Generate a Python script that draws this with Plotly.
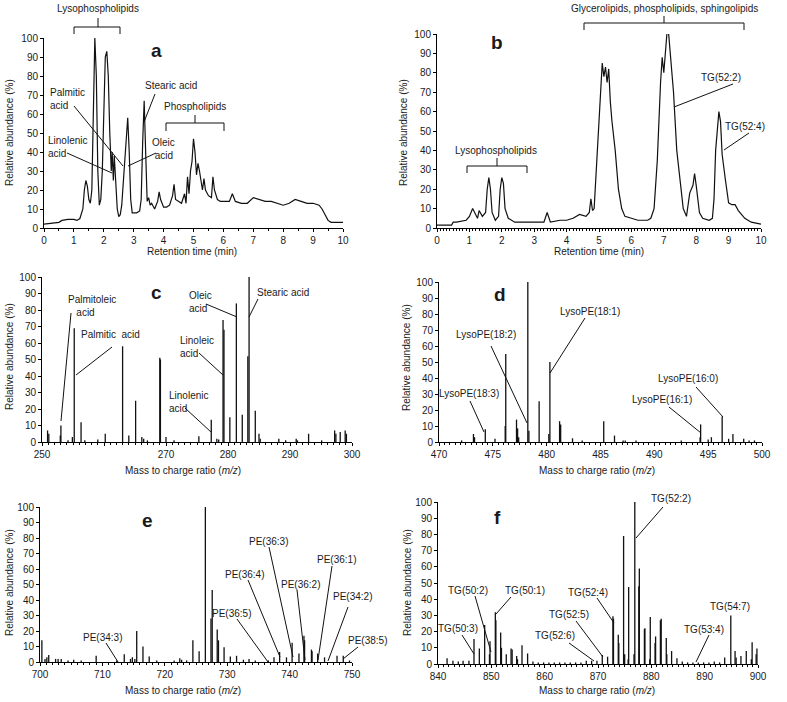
import plotly.graph_objects as go

# ---------------- data ----------------
# Panel a: total ion chromatogram (retention time, relative abundance)
a_time = [0, 0.5, 0.6, 0.8, 1.0, 1.1, 1.2, 1.3, 1.35, 1.4, 1.45, 1.5, 1.55, 1.6, 1.65, 1.7, 1.75, 1.8, 1.85,
          1.9, 1.95, 2.0, 2.05, 2.1, 2.15, 2.2, 2.25, 2.28, 2.32, 2.35, 2.4, 2.45, 2.5, 2.55, 2.6, 2.65, 2.7,
          2.75, 2.8, 2.85, 2.9, 2.95, 3.0, 3.1, 3.2, 3.25, 3.3, 3.35, 3.4, 3.45, 3.5, 3.55, 3.6, 3.7, 3.8,
          3.85, 3.9, 4.0, 4.1, 4.2, 4.3, 4.35, 4.4, 4.5, 4.6, 4.7, 4.75, 4.8, 4.85, 4.9, 4.95, 5.0, 5.05,
          5.1, 5.15, 5.2, 5.3, 5.35, 5.4, 5.5, 5.6, 5.65, 5.7, 5.8, 5.9, 6.0, 6.2, 6.3, 6.4, 6.6, 6.8, 7.0,
          7.2, 7.4, 7.6, 7.8, 8.0, 8.2, 8.4, 8.6, 8.8, 9.0, 9.2, 9.3, 9.4, 9.5, 9.6, 10.0]
a_abund = [2, 3, 4, 4.5, 4.5, 4, 5, 10, 20, 25, 22, 15, 13, 20, 60, 100, 80, 30, 12,
           15, 30, 70, 90, 93, 80, 50, 30, 40, 25, 38, 20, 10, 6, 7, 12, 25, 38,
           45, 58, 40, 15, 8, 8, 8, 9, 15, 45, 67, 40, 14, 16, 12, 13, 10, 14,
           19, 15, 11, 11, 12, 17, 23, 15, 14, 13, 18, 13, 27, 18, 30, 35, 47, 40,
           28, 34, 30, 20, 26, 20, 17, 16, 27, 20, 15, 14, 14, 14, 18, 14, 13, 13, 16,
           15, 14, 14, 13, 12, 13, 15, 14, 13, 13, 12, 10, 7, 4, 3, 3]

# Panel b: total ion chromatogram
b_time = [0, 0.45, 0.5, 0.6, 0.9, 1.0, 1.1, 1.2, 1.25, 1.3, 1.4, 1.5, 1.55, 1.6, 1.65, 1.7, 1.8, 1.9,
          1.95, 2.0, 2.05, 2.1, 2.2, 2.4, 2.8, 3.0, 3.3, 3.4, 3.45, 3.5, 3.8, 4.0, 4.2, 4.4, 4.6, 4.7,
          4.75, 4.8, 4.85, 4.9, 5.0, 5.05, 5.1, 5.15, 5.2, 5.25, 5.3, 5.35, 5.4, 5.5, 5.6, 5.7, 5.8,
          6.0, 6.2, 6.5, 6.6, 6.7, 6.8, 6.9, 6.95, 7.0, 7.05, 7.1, 7.15, 7.2, 7.3, 7.4, 7.5, 7.6, 7.7,
          7.75, 7.8, 7.9, 7.95, 8.0, 8.1, 8.2, 8.4, 8.5, 8.55, 8.6, 8.7, 8.75, 8.8, 8.9, 9.0, 9.1, 9.2,
          9.3, 9.5, 9.7, 10.0]
b_abund = [1.5, 1.5, 3, 3, 4, 6, 10, 7, 5, 9, 6, 8, 20, 26, 20, 8, 4, 6,
           20, 26, 23, 10, 5, 3, 3, 3, 3, 8, 5, 3, 4, 4, 5, 7, 6, 8,
           15, 9, 10, 25, 60, 70, 85, 78, 83, 75, 82, 65, 55, 40, 20, 10, 6,
           5, 4, 4, 5, 10, 35, 75, 88, 80, 90, 101, 100, 90, 70, 40, 25, 10, 6,
           12, 18, 22, 28, 22, 8, 5, 4, 5, 15, 40, 60, 55, 38, 25, 13, 12, 12,
           9, 5, 3, 2]

# Panel c: mass spectrum (m/z 250-300)
c_mz = [250.9, 251.1, 252.95, 253.05, 254.2, 254.9, 255.2, 256.3, 256.9, 259.0, 260.2, 263.0, 264.0,
        265.1, 266.1, 266.4, 267.0, 269.0, 269.1, 270.0, 271.3, 275.3, 277.3, 278.2, 278.5, 279.2,
        279.35, 280.3, 281.35, 282.3, 283.2, 283.4, 284.4, 285.0, 285.2, 288.2, 289.3, 291.0, 291.2,
        293.0, 295.1, 297.2, 297.4, 298.1, 298.9, 299.1]
c_int = [7, 5, 4, 10, 1, 3, 69, 12, 1, 1.5, 5, 58, 4,
         25, 3, 2, 1, 51, 50, 3, 1, 3.5, 13.5, 2, 1.5, 74,
         68, 15, 84, 16.5, 52, 100, 19, 5, 2, 2, 1, 2, 1,
         5, 1, 7, 5, 6, 7, 5]

# Panel d: mass spectrum (m/z 470-500)
d_mz = [472.1, 473.2, 473.3, 474.3, 475.2, 476.15, 476.2, 477.2, 477.3, 477.4, 478.25, 478.35, 479.3,
        480.2, 480.3, 481.2, 481.3, 482.4, 483.3, 485.3, 486.3, 487.1, 487.3, 488.3, 492.5, 494.25,
        494.3, 495.0, 495.3, 496.3, 496.9, 497.3, 498.3, 498.8, 499.3]
d_int = [1, 5, 3, 8, 2, 10, 55, 14, 8.5, 3, 100, 7, 25.5,
         5, 50, 13, 11, 2.3, 1, 13, 4, 1, 1, 1, 1, 3,
         11, 1.5, 3, 16, 2, 5, 2, 1, 1]

# Panel e: mass spectrum (m/z 700-750)
e_mz = [700.3, 700.8, 701.1, 701.4, 702.5, 702.9, 703.4, 704.5, 705.4, 706.6, 709.0, 712.3, 713.5,
        714.5, 714.8, 715.2, 715.5, 716.5, 717.5, 718.7, 721.5, 722.4, 722.7, 723.5, 724.5, 725.5,
        726.5, 727.4, 727.6, 728.4, 728.6, 729.5, 730.5, 731.5, 732.6, 733.5, 734.5, 736.6, 737.5,
        738.4, 739.5, 740.4, 741.5, 742.3, 742.4, 743.5, 743.6, 744.5, 745.6, 747.6, 748.6, 749.6]
e_int = [14, 2, 3, 4.5, 2, 2, 2, 1, 1.5, 1, 4, 1, 5,
         2, 3, 2, 20, 10, 3.5, 1, 1, 2.5, 1.5, 1, 14, 7,
         100, 28, 46.5, 21, 14, 9.5, 3.5, 4, 1.5, 2, 1, 1, 3,
         6.5, 3, 12.4, 5.5, 17, 14, 8, 7, 5.5, 3, 4, 4, 1]

# Panel f: mass spectrum (m/z 840-900)
f_mz = [841.7, 842.8, 843.8, 844.7, 845.8, 846.75, 847.75, 848.75, 849.65, 849.75, 850.75, 850.85,
        851.75, 851.9, 852.8, 853.7, 853.9, 854.75, 854.9, 855.75, 856.8, 857.8, 858.8, 859.8, 860.8,
        861.8, 862.8, 863.8, 864.8, 865.8, 866.8, 867.8, 868.8, 869.8, 870.8, 871.8, 872.8, 872.9,
        873.8, 873.9, 874.8, 875.0, 875.65, 875.75, 876.75, 876.9, 877.65, 877.75, 878.7, 878.8,
        879.7, 879.8, 880.7, 880.8, 881.7, 881.85, 882.8, 882.9, 883.8, 884.8, 885.8, 886.8, 887.8,
        888.8, 889.8, 890.8, 891.8, 892.8, 893.75, 894.9, 895.7, 895.9, 896.8, 897.8, 898.75, 898.9,
        899.65, 899.8]
f_int = [3.5, 2, 1.5, 2, 2, 15.5, 9.5, 24, 6, 14, 32, 27,
         19.5, 10, 6, 9.5, 9, 5, 3, 11.5, 6.5, 1.5, 1, 1, 1,
         1, 1, 1, 1, 1, 1, 2, 2, 2, 5.5, 4.5, 29.5, 28,
         18, 13, 79, 6, 3, 47.5, 6, 100, 48, 59, 21.5, 22,
         3, 29, 13, 17, 27, 28, 16, 6, 8, 3.5, 1.5, 1, 1,
         1, 1, 1, 1.5, 1, 4, 30, 8, 4, 5, 8, 3, 13.5,
         6, 9.5]

# tick labels
y_ticks = [0, 10, 20, 30, 40, 50, 60, 70, 80, 90, 100]
time_ticks = [0, 1, 2, 3, 4, 5, 6, 7, 8, 9, 10]
c_ticks = [250, 260, 270, 280, 290, 300]
c_ticktext = ["250", "", "270", "280", "290", "300"]
d_ticks = [470, 475, 480, 485, 490, 495, 500]
e_ticks = [700, 710, 720, 730, 740, 750]
f_ticks = [840, 850, 860, 870, 880, 890, 900]

# ---------------- layout helpers ----------------
W, H = 787, 702
FONT = "Liberation Sans, Arial, sans-serif"
TXT = "#1a1a1a"


def px(x):
    return x / W


def py(y):
    return 1 - y / H


def stems(mz, inten):
    xs, ys = [], []
    for m, v in zip(mz, inten):
        xs += [m, m, None]
        ys += [0, v, None]
    return xs, ys


fig = go.Figure()

# pixel boxes (left, right, top(=100), bottom(=0))
boxes = {
    "a": (44, 343, 38, 228),
    "b": (437, 761, 34, 228),
    "c": (42, 352, 277, 442),
    "d": (439, 762, 282, 442),
    "e": (40, 352, 507, 662),
    "f": (438, 758, 502, 664),
}
xranges = {"a": [0, 10], "b": [0, 10], "c": [250, 300], "d": [470, 500], "e": [700, 750], "f": [840, 900]}
xticks = {"a": (time_ticks, [str(t) for t in time_ticks]), "b": (time_ticks, [str(t) for t in time_ticks]),
          "c": (c_ticks, c_ticktext), "d": (d_ticks, [str(t) for t in d_ticks]),
          "e": (e_ticks, [str(t) for t in e_ticks]), "f": (f_ticks, [str(t) for t in f_ticks])}
minor_dt = {"a": 0.5, "b": 0.1, "c": 1, "d": 0.5, "e": 1, "f": 1}

layout = dict(width=W, height=H, margin=dict(l=0, r=0, t=0, b=0, autoexpand=False), paper_bgcolor="white",
              plot_bgcolor="white", showlegend=False, font=dict(family=FONT, size=10, color=TXT))

for i, k in enumerate(["a", "b", "c", "d", "e", "f"]):
    n = "" if i == 0 else str(i + 1)
    l, r, t, b = boxes[k]
    tv, tt = xticks[k]
    layout["xaxis" + n] = dict(domain=[px(l), px(r)], range=xranges[k], anchor="y" + n,
                               showgrid=False, zeroline=False, showline=True, linecolor="black",
                               linewidth=1, ticks="outside", ticklen=3, tickcolor="black",
                               tickvals=tv, ticktext=tt, tickfont=dict(size=10, color=TXT),
                               automargin=False,
                               minor=dict(ticks="outside", ticklen=2, dtick=minor_dt[k],
                                          tickcolor="black", showgrid=False))
    layout["yaxis" + n] = dict(domain=[py(b), py(t)], range=[0, 100], anchor="x" + n,
                               showgrid=False, zeroline=False, showline=True, linecolor="black",
                               linewidth=1, ticks="outside", ticklen=3, tickcolor="black",
                               automargin=False,
                               tickvals=y_ticks, tickfont=dict(size=10, color=TXT))

fig.add_trace(go.Scatter(x=a_time, y=a_abund, mode="lines", line=dict(color="#111", width=1.2),
                         xaxis="x", yaxis="y", cliponaxis=False))
fig.add_trace(go.Scatter(x=b_time, y=b_abund, mode="lines", line=dict(color="#111", width=1.2),
                         xaxis="x2", yaxis="y2", cliponaxis=False))
for n, (mz, it) in zip(["3", "4", "5", "6"], [(c_mz, c_int), (d_mz, d_int), (e_mz, e_int), (f_mz, f_int)]):
    xs, ys = stems(mz, it)
    fig.add_trace(go.Scatter(x=xs, y=ys, mode="lines", line=dict(color="#111", width=1.3),
                             xaxis="x" + n, yaxis="y" + n, cliponaxis=False, connectgaps=False))

annotations = []
shapes = []


def label(x, y, text, size=10, bold=False, xanchor="center", align="center", angle=0):
    if bold:
        text = "<b>" + text + "</b>"
    annotations.append(dict(x=px(x), y=py(y), xref="paper", yref="paper", text=text, showarrow=False,
                            font=dict(family=FONT, size=size, color=TXT), xanchor=xanchor,
                            yanchor="middle", align=align, textangle=angle, borderpad=0))


def seg(x0, y0, x1, y1):
    shapes.append(dict(type="line", xref="paper", yref="paper", x0=px(x0), y0=py(y0), x1=px(x1),
                       y1=py(y1), line=dict(color="#111", width=1)))


def bracket(xl, xr, yh, ye, xm, ymt):
    seg(xl, ye, xl, yh)
    seg(xl, yh, xr, yh)
    seg(xr, yh, xr, ye)
    seg(xm, yh, xm, ymt)


# axis titles
YT = "Relative abundance (%)"
MZ = "Mass to charge ratio (<i>m/z</i>)"
label(9, 133, YT, angle=-90)
label(403, 133, YT, angle=-90)
label(9, 357, YT, angle=-90)
label(406, 358, YT, angle=-90)
label(9, 583, YT, angle=-90)
label(407, 583, YT, angle=-90)
label(192, 251, "Retention time (min)")
label(599, 251, "Retention time (min)")
label(183, 470, MZ)
label(597, 470, MZ)
label(183, 690, MZ)
label(597, 690, MZ)

# panel letters
label(156, 50, "a", size=19, bold=True)
label(497, 42, "b", size=19, bold=True)
label(156, 293, "c", size=19, bold=True)
label(500, 294, "d", size=19, bold=True)
label(147, 520, "e", size=19, bold=True)
label(497, 517, "f", size=19, bold=True)

# panel a
label(98, 9, "Lysophospholipids")
bracket(74, 120, 27, 34, 98, 18)
label(49, 99, "Palmitic<br>acid", xanchor="left", align="left")
seg(74, 106, 123, 166)
label(47, 147, "Linolenic<br>acid", xanchor="left", align="left")
seg(67, 153, 112, 173)
label(171, 86, "Stearic acid")
seg(155, 94, 144, 122)
label(151, 149, "Oleic<br> acid", xanchor="left", align="left")
seg(156, 153, 128, 166)
label(195, 107, "Phospholipids")
bracket(166, 224, 123, 131, 195, 115)

# panel b
label(664, 9, "Glycerolipids, phospholipids, sphingolipids")
bracket(584, 744, 23, 30, 664, 16)
label(496, 150, "Lysophospholipids")
bracket(467, 527, 166, 173, 497, 158)
label(721, 77, "TG(52:2)")
seg(733, 84, 674, 107)
label(745, 127, "TG(52:4)")
seg(749, 133, 724, 150)

# panel c
label(67, 306, "Palmitoleic<br>   acid", xanchor="left", align="left")
seg(71, 313, 61, 421)
label(111, 334, "Palmitic  acid")
seg(112, 347, 76, 375)
label(188, 302, "Oleic<br>acid", xanchor="left", align="left")
seg(206, 304, 237, 317)
label(283, 292, "Stearic acid")
seg(258, 299, 249, 317)
label(179, 347, "Linoleic<br>acid", xanchor="left", align="left")
seg(199, 353, 223, 375)
label(168, 402, "Linolenic<br>acid", xanchor="left", align="left")
seg(185, 408, 211, 432)

# panel d
label(590, 311, "LysoPE(18:1)")
seg(585, 318, 550, 373)
label(486, 335, "LysoPE(18:2)")
seg(491, 346, 527, 423)
label(469, 393, "LysoPE(18:3)")
seg(470, 401, 484, 432)
label(688, 378, "LysoPE(16:0)")
seg(696, 387, 723, 417)
label(662, 399, "LysoPE(16:1)")
seg(669, 407, 701, 433)

# panel e
label(102, 637, "PE(34:3)")
seg(106, 643, 118, 662)
label(232, 613, "PE(36:5)")
seg(237, 619, 268, 662)
label(245, 574, "PE(36:4)")
seg(248, 580, 280, 657)
label(268, 541, "PE(36:3)")
seg(269, 547, 293, 657)
label(300, 584, "PE(36:2)")
seg(297, 590, 305, 660)
label(336, 559, "PE(36:1)")
seg(332, 566, 318, 660)
label(352, 596, "PE(34:2)")
seg(348, 607, 328, 661)
label(367, 640, "PE(38:5)")
seg(358, 647, 343, 659)

# panel f
label(671, 499, "TG(52:2)")
seg(663, 507, 636, 538)
label(468, 590, "TG(50:2)")
seg(475, 596, 491, 652)
label(525, 590, "TG(50:1)")
seg(511, 597, 496, 614)
label(588, 592, "TG(52:4)")
seg(597, 598, 614, 623)
label(569, 614, "TG(52:5)")
seg(576, 621, 603, 657)
label(555, 635, "TG(52:6)")
seg(569, 643, 594, 661)
label(458, 628, "TG(50:3)")
seg(462, 635, 474, 654)
label(730, 606, "TG(54:7)")
label(704, 629, "TG(53:4)")
seg(709, 635, 696, 662)

layout["annotations"] = annotations
layout["shapes"] = shapes
fig.update_layout(**layout)
fig.write_html("out.html", config={"displayModeBar": False, "staticPlot": True},
               post_script="document.body.style.margin='0';document.body.style.overflow='hidden';")
